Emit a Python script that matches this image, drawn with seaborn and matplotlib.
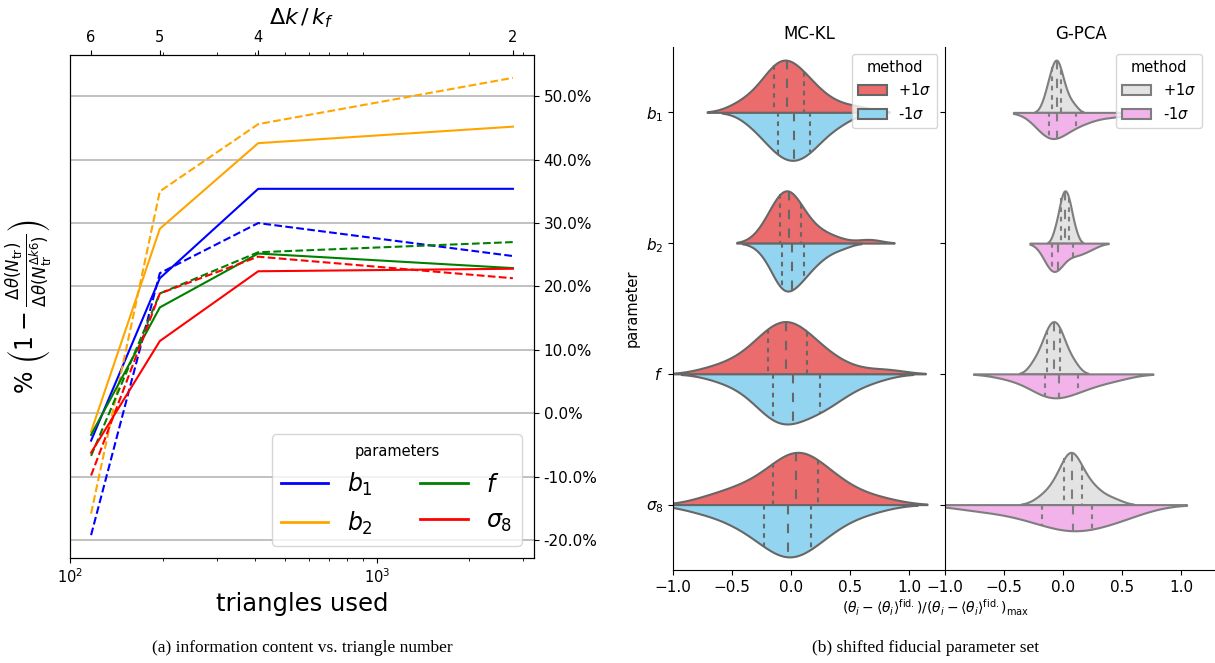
import numpy as np
import pandas as pd
import matplotlib
matplotlib.use("Agg")
import matplotlib.pyplot as plt
from matplotlib.lines import Line2D
from matplotlib.ticker import FuncFormatter, NullFormatter
import seaborn as sns

# ---------------------------------------------------------------- panel (a)
# number of triangles used for bin widths Δk = 6, 5, 4, 2 k_f
n_triangles = [117, 196, 410, 2772]
dk_labels = ["6", "5", "4", "2"]

param_names = [r"$b_1$", r"$b_2$", r"$f$", r"$\sigma_8$"]
param_colors = ["blue", "orange", "green", "red"]

# information gain in percent, solid runs
gain_b1 = [-4.3, 21.3, 35.4, 35.4]
gain_b2 = [-2.9, 29.1, 42.6, 45.2]
gain_f = [-3.4, 16.7, 25.2, 22.9]
gain_s8 = [-6.2, 11.4, 22.4, 22.8]

# information gain in percent, dashed runs
gain_b1_alt = [-19.2, 22.1, 30.0, 24.8]
gain_b2_alt = [-15.8, 35.0, 45.6, 52.9]
gain_f_alt = [-6.7, 18.9, 25.4, 27.0]
gain_s8_alt = [-9.8, 18.9, 24.7, 21.3]

# ---------------------------------------------------------------- panel (b)
methods = [r"+1$\sigma$", r"-1$\sigma$"]
mckl_colors = ["#eb6c6c", "#93d5f0"]
gpca_colors = ["#e3e3e3", "#f2b2ea"]

# MC-KL normalised shifts
mckl_b1_plus = [-0.46, -0.36, -0.29, -0.23, -0.19, -0.155, -0.145, -0.125, -0.105, -0.085, -0.065, -0.045,
                -0.027, -0.005, 0.02, 0.05, 0.08, 0.105, 0.135, 0.17, 0.22, 0.29, 0.40, 0.58]
mckl_b1_minus = [-0.36, -0.28, -0.22, -0.18, -0.15, -0.12, -0.09, -0.065, -0.04, -0.015, 0.01, 0.035,
                 0.06, 0.085, 0.11, 0.14, 0.165, 0.2, 0.24, 0.29, 0.36, 0.46]
mckl_b2_plus = [-0.25, -0.2, -0.165, -0.14, -0.12, -0.1, -0.09, -0.075, -0.06, -0.045, -0.032, -0.022,
                -0.012, 0.0, 0.015, 0.03, 0.05, 0.075, 0.11, 0.15, 0.2, 0.27, 0.38, 0.66]
mckl_b2_minus = [-0.24, -0.17, -0.13, -0.11, -0.095, -0.085, -0.07, -0.055, -0.04, -0.025, -0.008, 0.02,
                 0.04, 0.06, 0.08, 0.1, 0.117, 0.16, 0.2, 0.24, 0.3, 0.42]
mckl_f_plus = [-0.68, -0.5, -0.4, -0.32, -0.26, -0.21, -0.195, -0.16, -0.13, -0.1, -0.075, -0.05,
               -0.034, -0.01, 0.02, 0.05, 0.09, 0.13, 0.155, 0.2, 0.26, 0.34, 0.48, 0.8]
mckl_f_minus = [-0.6, -0.42, -0.32, -0.25, -0.19, -0.165, -0.15, -0.12, -0.09, -0.06, -0.025, 0.016,
                0.045, 0.08, 0.12, 0.19, 0.225, 0.26, 0.3, 0.35, 0.42, 0.52, 0.7]
mckl_s8_plus = [-0.72, -0.55, -0.44, -0.35, -0.27, -0.2, -0.14, -0.1, -0.06, -0.02, 0.01, 0.035,
                0.055, 0.08, 0.1, 0.13, 0.17, 0.22, 0.26, 0.31, 0.37, 0.45, 0.56, 0.78]
mckl_s8_minus = [-0.8, -0.6, -0.48, -0.4, -0.33, -0.26, -0.215, -0.17, -0.13, -0.095, -0.065, -0.04,
                 -0.012, 0.015, 0.045, 0.08, 0.12, 0.16, 0.2, 0.25, 0.31, 0.39, 0.5, 0.7]

# G-PCA normalised shifts
gpca_b1_plus = [-0.17, -0.145, -0.13, -0.118, -0.108, -0.1, -0.093, -0.085, -0.077, -0.07, -0.063, -0.058,
                -0.052, -0.046, -0.04, -0.034, -0.027, -0.019, -0.008, 0.004, 0.018, 0.035, 0.06, 0.1]
gpca_b1_minus = [-0.19, -0.15, -0.13, -0.118, -0.1, -0.07, -0.03, 0.01, 0.09, 0.15, 0.25, 0.45]
gpca_b2_plus = [-0.08, -0.06, -0.045, -0.035, -0.027, -0.02, -0.013, -0.007, -0.002, 0.003, 0.008, 0.013,
                0.019, 0.024, 0.03, 0.036, 0.042, 0.047, 0.053, 0.06, 0.068, 0.078, 0.092, 0.115]
gpca_b2_minus = [-0.14, -0.115, -0.105, -0.097, -0.083, -0.066, -0.048, -0.03, 0.0, 0.081, 0.11, 0.16, 0.24]
gpca_f_plus = [-0.27, -0.23, -0.2, -0.18, -0.16, -0.145, -0.135, -0.125, -0.115, -0.105, -0.095, -0.087,
               -0.073, -0.065, -0.055, -0.045, -0.035, -0.026, -0.014, 0.0, 0.018, 0.04, 0.07, 0.11]
gpca_f_minus = [-0.45, -0.22, -0.17, -0.14, -0.11, -0.032, 0.02, 0.09, 0.156, 0.28, 0.45]
gpca_s8_plus = [-0.2, -0.13, -0.085, -0.05, -0.025, -0.003, 0.014, 0.03, 0.045, 0.056, 0.065, 0.071,
                0.077, 0.085, 0.095, 0.108, 0.125, 0.155, 0.185, 0.21, 0.24, 0.28, 0.34, 0.44]
gpca_s8_minus = [-0.75, -0.45, -0.25, -0.155, -0.05, 0.05, 0.11, 0.15, 0.2, 0.37, 0.45, 0.58]


def long_frame(pairs):
    rows = []
    for name, plus, minus in pairs:
        rows += [(name, methods[0], v) for v in plus]
        rows += [(name, methods[1], v) for v in minus]
    return pd.DataFrame(rows, columns=["parameter", "method", "value"])


df_mckl = long_frame([
    (param_names[0], mckl_b1_plus, mckl_b1_minus),
    (param_names[1], mckl_b2_plus, mckl_b2_minus),
    (param_names[2], mckl_f_plus, mckl_f_minus),
    (param_names[3], mckl_s8_plus, mckl_s8_minus),
])
df_gpca = long_frame([
    (param_names[0], gpca_b1_plus, gpca_b1_minus),
    (param_names[1], gpca_b2_plus, gpca_b2_minus),
    (param_names[2], gpca_f_plus, gpca_f_minus),
    (param_names[3], gpca_s8_plus, gpca_s8_minus),
])

# ---------------------------------------------------------------- figure
fig = plt.figure(figsize=(12.15, 6.63), dpi=100)

# ----- information content vs triangle number
ax = fig.add_axes([0.0576, 0.1584, 0.3819, 0.7587])
solid = [gain_b1, gain_b2, gain_f, gain_s8]
dashed = [gain_b1_alt, gain_b2_alt, gain_f_alt, gain_s8_alt]
for vals, alt, col in zip(solid, dashed, param_colors):
    sns.lineplot(x=n_triangles, y=vals, color=col, lw=1.5, ax=ax, legend=False)
    sns.lineplot(x=n_triangles, y=alt, color=col, lw=1.5, linestyle="--", ax=ax, legend=False)
ax.set_xscale("log")
ax.grid(axis="y", color="#b0b0b0", lw=1.1)
ax.set_axisbelow(True)
ax.yaxis.tick_right()
ax.yaxis.set_label_position("left")
ax.yaxis.set_major_formatter(FuncFormatter(lambda v, pos: f"{v:.1f}%"))
ax.tick_params(axis="y", labelsize=11)
ax.tick_params(axis="x", labelsize=10.5)
ax.set_xlabel("triangles used", fontsize=17.5)
ax.set_ylabel(r"$\%\ \left(1 - \frac{\Delta\theta(N_{\rm tr})}{\Delta\theta(N_{\rm tr}^{\Delta k6})}\right)$",
              fontsize=17, labelpad=11)

ax_top = ax.twiny()
ax_top.set_xscale("log")
ax_top.set_xlim(ax.get_xlim())
ax_top.set_xticks(n_triangles)
ax_top.set_xticklabels(dk_labels)
ax_top.xaxis.set_minor_formatter(NullFormatter())
ax_top.tick_params(axis="x", labelsize=10.5)
ax_top.set_xlabel(r"$\Delta k\,/\,k_f$", fontsize=16)

handles = [Line2D([], [], color=c, lw=2) for c in param_colors]
leg = ax.legend(handles, param_names, title="parameters", ncol=2, loc="lower right",
                fontsize=17, title_fontsize=10.5)

fig.text(0.2486, 0.0226, "(a) information content vs. triangle number",
         family="Liberation Serif", fontsize=12.5, ha="center", va="center")

# ----- shifted fiducial parameter set
ax_v1 = fig.add_axes([0.5539, 0.1403, 0.2237, 0.7888])
ax_v2 = fig.add_axes([0.7778, 0.1403, 0.2237, 0.7888], sharex=ax_v1, sharey=ax_v1)

for axv, df, pal, title, anchor in [(ax_v1, df_mckl, mckl_colors, "MC-KL", (1.0, 1.0)),
                                    (ax_v2, df_gpca, gpca_colors, "G-PCA", (0.972, 1.0))]:
    sns.violinplot(data=df, x="value", y="parameter", hue="method",
                   order=param_names, hue_order=methods, palette=pal,
                   split=True, inner="quart", density_norm="count", common_norm=True,
                   saturation=1, linewidth=1.5, ax=axv)
    # quartile lines: short dashes for the quartiles, long dashes for the median
    for i, line in enumerate(axv.lines):
        line.set_linewidth(1.5)
        line.set_dashes([4.5, 4.5] if i % 3 == 1 else [2.25, 2.25])
    axv.set_title(title, fontsize=12)
    axv.set_xlabel("")
    axv.spines[["top", "right"]].set_visible(False)
    axv.tick_params(labelsize=11)
    sns.move_legend(axv, "upper right", bbox_to_anchor=anchor, title="method",
                    fontsize=10.5, title_fontsize=10.5)

ax_v1.set_xlim(-1.0, 1.3)
ax_v1.set_xticks([-1.0, -0.5, 0.0, 0.5, 1.0])
ax_v1.set_ylabel("parameter", fontsize=10.5)
ax_v2.set_ylabel("")
ax_v2.tick_params(axis="y", labelleft=False)

fig.text(0.77, 0.083,
         r"$(\theta_i - \langle\theta_i\rangle^{\rm fid.})/(\theta_i - \langle\theta_i\rangle^{\rm fid.})_{\rm max}$",
         fontsize=10, ha="center", va="center")
fig.text(0.762, 0.0226, "(b) shifted fiducial parameter set",
         family="Liberation Serif", fontsize=12.5, ha="center", va="center")

fig.savefig("out.png", dpi=100)
